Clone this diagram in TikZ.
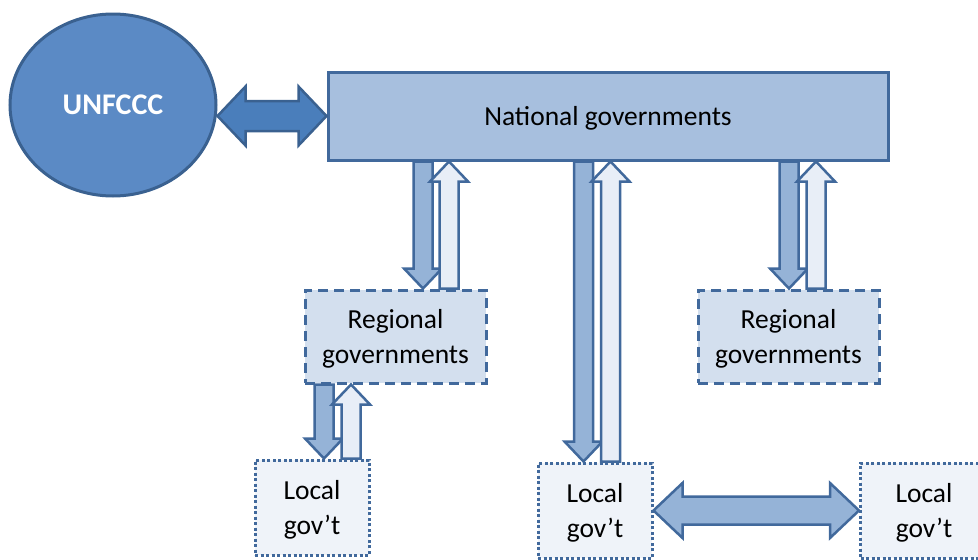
\documentclass[tikz,border=0pt]{standalone}
\usepackage{fontspec}
\setmainfont{Carlito}
\usepackage{tikz}
\usetikzlibrary{positioning}
\usetikzlibrary{shapes.geometric}
\usetikzlibrary{calc}

\definecolor{circblue}{HTML}{5B8AC5}
\definecolor{circedge}{HTML}{3A6190}
\definecolor{boxedge}{HTML}{41699C}
\definecolor{natfill}{HTML}{A7BFDE}
\definecolor{regfill}{HTML}{D3DFEE}
\definecolor{locfill}{HTML}{EFF3F9}
\definecolor{downfill}{HTML}{95B3D7}
\definecolor{upfill}{HTML}{E8EEF7}
\definecolor{linkfill}{HTML}{4A7EBB}

% block arrows drawn as outlines between two points
\tikzset{
  arr shaft/.store in=\arrshaft,
  arr head/.store in=\arrhead,
  arr len/.store in=\arrlen,
  arr shaft=9.5pt, arr head=19pt, arr len=20pt,
  block arrow/.style={to path={
      ($(\tikztotarget)!\arrlen!(\tikztostart)$) coordinate (hb)
      ($(\tikztostart)!\arrshaft!90:(\tikztotarget)$)
      -- ($(hb)!\arrshaft!90:(\tikztotarget)$)
      -- ($(hb)!\arrhead!90:(\tikztotarget)$)
      -- (\tikztotarget)
      -- ($(hb)!\arrhead!-90:(\tikztotarget)$)
      -- ($(hb)!\arrshaft!-90:(\tikztotarget)$)
      -- ($(\tikztostart)!\arrshaft!-90:(\tikztotarget)$)
      -- cycle}},
  double block arrow/.style={to path={
      ($(\tikztostart)!\arrlen!(\tikztotarget)$) coordinate (ha)
      ($(\tikztotarget)!\arrlen!(\tikztostart)$) coordinate (hb)
      (\tikztostart)
      -- ($(ha)!\arrhead!90:(\tikztotarget)$)
      -- ($(ha)!\arrshaft!90:(\tikztotarget)$)
      -- ($(hb)!\arrshaft!90:(\tikztotarget)$)
      -- ($(hb)!\arrhead!90:(\tikztotarget)$)
      -- (\tikztotarget)
      -- ($(hb)!\arrhead!-90:(\tikztotarget)$)
      -- ($(hb)!\arrshaft!-90:(\tikztotarget)$)
      -- ($(ha)!\arrshaft!-90:(\tikztotarget)$)
      -- ($(ha)!\arrhead!-90:(\tikztotarget)$)
      -- cycle}}
}

\begin{document}
\begin{tikzpicture}[x=1pt,y=-1pt,
    every node/.style={font=\fontsize{27.5}{35}\selectfont},
    org node/.style={ellipse,draw=circedge,fill=circblue,line width=3pt,
        minimum width=206pt,minimum height=182pt,text=white,
        font=\fontsize{30}{36}\selectfont\bfseries},
    nat node/.style={rectangle,draw=boxedge,fill=natfill,line width=3pt,
        text depth=0pt,minimum width=560pt,minimum height=88pt},
    reg node/.style={rectangle,draw=boxedge,fill=regfill,line width=3pt,
        dash pattern=on 10pt off 6pt,align=center,text depth=0pt,
        minimum width=181pt,minimum height=93pt},
    loc node/.style={rectangle,draw=boxedge,fill=locfill,line width=3pt,
        dash pattern=on 3pt off 2.5pt,align=center,text depth=0pt,
        minimum width=114pt,minimum height=95pt},
    down arr/.style={draw=boxedge,fill=downfill,line width=2.5pt,block arrow},
    up arr/.style={draw=boxedge,fill=upfill,line width=2.5pt,block arrow},
    link arr/.style={draw=circedge,fill=linkfill,line width=2.5pt,double block arrow,
        arr shaft=15pt,arr head=29.5pt,arr len=28pt},
    peer arr/.style={draw=boxedge,fill=downfill,line width=2.5pt,double block arrow,
        arr shaft=14pt,arr head=27.5pt,arr len=29pt}]

    \useasboundingbox (0,0) rectangle (978,560);

    \node[org node] (unfccc) at (113,105) {UNFCCC};
    \node[nat node] (nat) at (608,116) {National governments};
    \node[reg node] (regL) at (395.5,336.5) {Regional\\governments};
    \node[reg node] (regR) [right=209pt of regL] {Regional\\governments};
    \node[loc node] (locL) at (312,507.5) {Local\\gov’t};
    \node[loc node] (locM) at (595,510.5) {Local\\gov’t};
    \node[loc node,minimum width=127pt] (locR) [right=205.5pt of locM] {Local\\gov’t};

    % arrow ends
    \coordinate (ua) at (unfccc.east |- nat.west);
    \coordinate (d1b) at ($(regL.north)+(27.5,0)$);
    \coordinate (d1a) at (d1b |- nat.south);
    \coordinate (u1a) at ($(regL.north)+(53.5,0)$);
    \coordinate (u1b) at (u1a |- nat.south);
    \coordinate (d2b) at ($(locM.north)+(-11.5,0)$);
    \coordinate (d2a) at (d2b |- nat.south);
    \coordinate (u2a) at ($(locM.north)+(15.5,0)$);
    \coordinate (u2b) at (u2a |- nat.south);
    \coordinate (d3b) at ($(regR.north)+(0.5,0)$);
    \coordinate (d3a) at (d3b |- nat.south);
    \coordinate (u3a) at ($(regR.north)+(27.5,0)$);
    \coordinate (u3b) at (u3a |- nat.south);
    \coordinate (d4b) at ($(locL.north)+(12,0)$);
    \coordinate (d4a) at (d4b |- regL.south);
    \coordinate (u4a) at ($(locL.north)+(39,0)$);
    \coordinate (u4b) at (u4a |- regL.south);

    \draw[link arr] (ua) to (nat.west);
    \draw[down arr] (d1a) to (d1b);
    \draw[up arr] (u1a) to (u1b);
    \draw[down arr] (d2a) to (d2b);
    \draw[up arr] (u2a) to (u2b);
    \draw[down arr] (d3a) to (d3b);
    \draw[up arr] (u3a) to (u3b);
    \draw[down arr] (d4a) to (d4b);
    \draw[up arr] (u4a) to (u4b);
    \draw[peer arr] (locM.east) to (locR.west);
\end{tikzpicture}
\end{document}
